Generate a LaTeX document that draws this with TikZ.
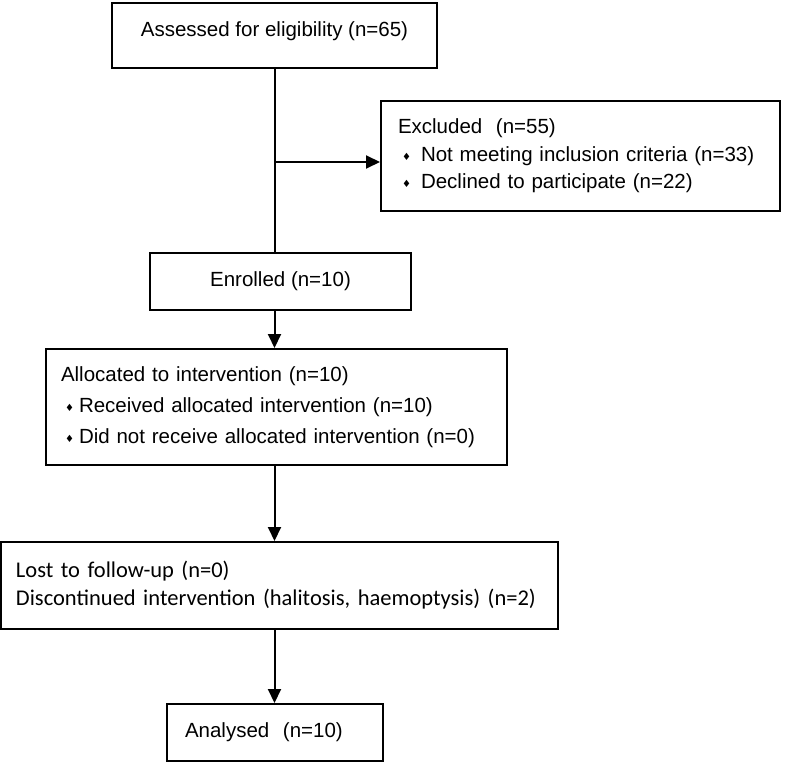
\documentclass[tikz,border=0pt]{standalone}
\usepackage{fontspec}
\setmainfont{Liberation Sans}
\newfontfamily\calib{Carlito}
\newfontfamily\symb{DejaVu Sans}
\usepackage{tikz}
\usetikzlibrary{arrows.meta}

\newcommand{\dmd}{{\symb\fontsize{10}{10}\selectfont ♦}}
\newcommand{\itm}[1][18pt]{\makebox[#1][l]{\hspace{4pt}\raisebox{1pt}{\dmd}}}

\tikzset{
    box/.style={draw,line width=2pt,inner sep=0pt,font=\fontsize{20.5}{27.5}\selectfont},
    arr/.style={line width=2pt,-{Triangle[width=13pt,length=14pt]}},
}

\begin{document}
\begin{tikzpicture}[x=1pt,y=-1pt]
    \useasboundingbox (0,0) rectangle (786,762);
    \node(assess)[box,minimum width=325pt,minimum height=65pt,
        text depth=12pt] at (274.5,35.5)
        {Assessed for eligibility (n=65)};
    \node(excl)[box,minimum width=399pt,minimum height=110pt,
        text width=365pt,align=left] at (580.5,156)
        {Excluded\ \ (n=55)\\
        \itm[23pt]Not meeting inclusion criteria (n=33)\\
        \itm[23pt]Declined to participate (n=22)};
    \node(enroll)[box,minimum width=261pt,minimum height=57pt] at (280.5,281.5)
        {Enrolled (n=10)};
    \node(alloc)[box,minimum width=461pt,minimum height=116pt,
        text width=431pt,align=left,font=\fontsize{20.5}{31}\selectfont] at (276.5,407)
        {Allocated to intervention (n=10)\\
        \itm Received allocated intervention (n=10)\\
        \itm Did not receive allocated intervention (n=0)};
    \node(lost)[box,minimum width=557pt,minimum height=87pt,
        text width=527pt,align=left,font=\calib\fontsize{22.5}{28}\selectfont] at (279.5,585.5)
        {Lost to follow-up (n=0)\\
        Discontinued intervention (halitosis, haemoptysis) (n=2)};
    \node(anal)[box,minimum width=216pt,minimum height=57pt,
        text width=180pt,align=left] at (275,732.5)
        {Analysed\ \ (n=10)};
    %spine and exclusion arrow
    \coordinate(split) at (275,162);
    \draw[line width=2pt] (assess.south) -- (assess.south |- enroll.north);
    \draw[arr] (split) -- (excl.west |- split);
    \draw[arr] (enroll.south -| assess.south) -- (alloc.north -| assess.south);
    \draw[arr] (alloc.south -| assess.south) -- (lost.north -| assess.south);
    \draw[arr] (lost.south -| assess.south) -- (anal.north -| assess.south);
\end{tikzpicture}
\end{document}
